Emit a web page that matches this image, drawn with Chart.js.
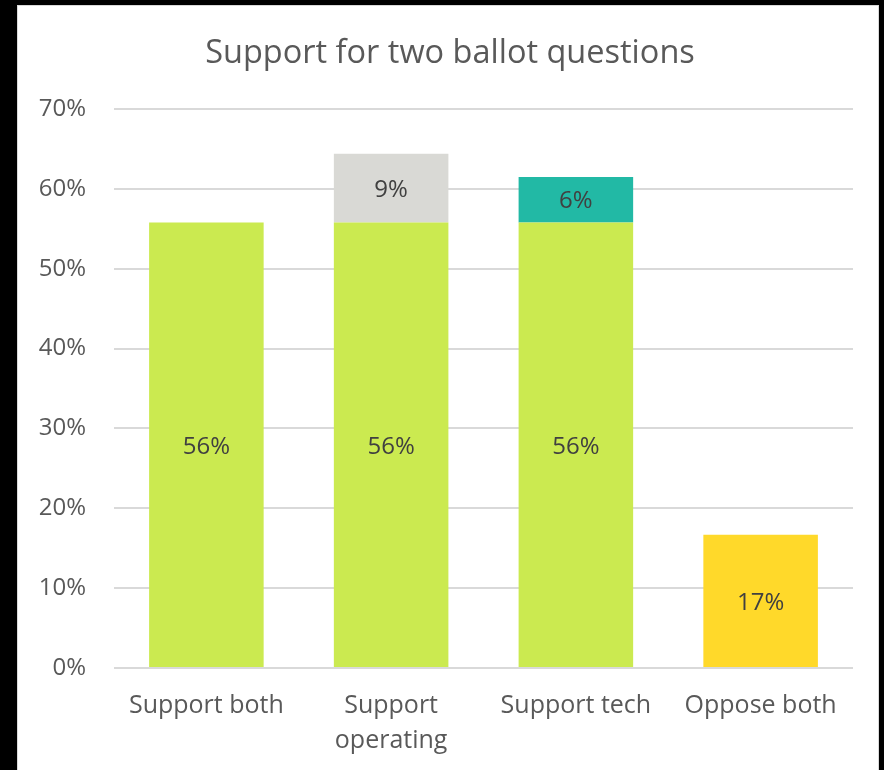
<!DOCTYPE html>
<html>
<head>
<meta charset="utf-8">
<script src="https://cdn.jsdelivr.net/npm/chart.js@4.4.1/dist/chart.umd.min.js"></script>
<style>
    html, body {margin: 0; padding: 0; background: #000;}
    .panel {
        position: absolute; left: 17px; top: 5px; width: 862px; height: 765px;
        background: #fff; border: 1px solid #d9d9d9; border-bottom: none; box-sizing: border-box;
    }
    canvas {display: block;}
</style>
</head>
<body>
<div class="panel"><canvas id="ballotChart" width="860" height="764"></canvas></div>
<script>
const categories = ['Support both', ['Support', 'operating'], 'Support tech', 'Oppose both']
const bothValues = [55.8, 55.8, 55.8, null]
const operatingValues = [null, 8.6, null, null]
const techValues = [null, null, 5.7, null]
const opposeValues = [null, null, null, 16.7]

const textColor = '#595959'
const labelColor = '#404040'
const fontFamily = "'Open Sans', 'Noto Sans', sans-serif"

// draws the rounded percentage in the middle of each segment
const barLabels = {
    id: 'barLabels',
    afterDatasetsDraw(chart) {
        const ctx = chart.ctx
        ctx.save()
        ctx.fillStyle = labelColor
        ctx.font = '24px ' + fontFamily
        ctx.textAlign = 'center'
        ctx.textBaseline = 'middle'
        chart.data.datasets.forEach((ds, i) => {
            chart.getDatasetMeta(i).data.forEach((el, j) => {
                const v = ds.data[j]
                if (v == null) return
                ctx.fillText(Math.round(v) + '%', el.x, (el.y + el.base) / 2 + 2)
            })
        })
        ctx.restore()
    }
}

const ctx = document.getElementById('ballotChart').getContext('2d')
new Chart(ctx, {
    type: 'bar',
    data: {
        labels: categories,
        datasets: [
            {label: 'Support both', data: bothValues, backgroundColor: '#cbea50'},
            {label: 'Support operating', data: operatingValues, backgroundColor: '#d9d9d5'},
            {label: 'Support tech', data: techValues, backgroundColor: '#22b9a5'},
            {label: 'Oppose both', data: opposeValues, backgroundColor: '#ffd92a'}
        ]
    },
    options: {
        responsive: false,
        animation: false,
        layout: {padding: {left: 4, right: 0, top: 0, bottom: 11}},
        plugins: {
            legend: {display: false},
            tooltip: {enabled: false},
            title: {
                display: true,
                text: 'Support for two ballot questions',
                color: textColor,
                font: {family: fontFamily, size: 32.5, weight: 'normal', lineHeight: 1.2},
                padding: {top: 28, bottom: 36}
            }
        },
        datasets: {bar: {categoryPercentage: 1, barPercentage: 0.62, borderWidth: 0}},
        scales: {
            x: {
                stacked: true,
                grid: {display: false, drawTicks: false},
                border: {display: false},
                afterFit: (scale) => { scale.height = 91 },
                ticks: {
                    color: textColor,
                    font: {family: fontFamily, size: 25, lineHeight: 1.4},
                    padding: 20, maxRotation: 0, autoSkip: false
                }
            },
            y: {
                stacked: true,
                min: 0, max: 70,
                grid: {color: '#d9d9d9', lineWidth: 2, drawTicks: false},
                border: {display: false},
                afterFit: (scale) => { scale.width = 92 },
                ticks: {
                    stepSize: 10,
                    color: textColor,
                    font: {family: fontFamily, size: 24},
                    padding: 28,
                    callback: (value) => value + '%'
                }
            },
            // empty right axis, only keeps the plot off the right edge
            yRight: {
                position: 'right',
                grid: {display: false, drawTicks: false},
                border: {display: false},
                ticks: {display: false},
                afterFit: (scale) => { scale.width = 25 }
            }
        }
    },
    plugins: [barLabels]
})
</script>
</body>
</html>
